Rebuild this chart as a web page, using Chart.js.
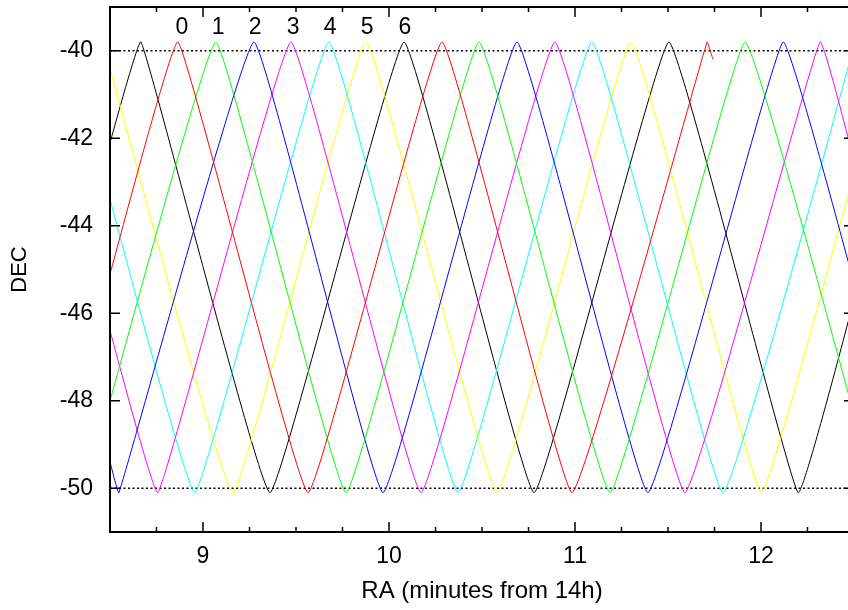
<!DOCTYPE html>
<html>
<head>
<meta charset="utf-8">
<script src="https://cdn.jsdelivr.net/npm/chart.js@4.4.0/dist/chart.umd.min.js"></script>
<style>
  html, body { margin: 0; padding: 0; background: #fff; overflow: hidden; }
  #wrap { width: 870px; height: 610px; }
</style>
</head>
<body>
<div id="wrap"><canvas id="raChart" width="870" height="610"></canvas></div>
<script>
// Axis ranges (RA in minutes from 14h, DEC in degrees)
const xMin = 8.5, xMax = 12.5;
const yMin = -51, yMax = -39;
const xTicks = [9, 10, 11, 12];
const xMinorStep = 0.25;
const yTicks = [-50, -48, -46, -44, -42, -40];
const refLines = [-40, -50];

// Scan tracks: turning points
const scan0X = [8.5, 8.866, 9.565, 10.285, 10.984, 11.71, 11.742];
const scan0Y = [-45.1, -39.8, -50.1, -39.8, -50.1, -39.8, -40.2];
const scan1X = [8.5, 9.07, 9.769, 10.484, 11.188, 11.914, 12.5];
const scan1Y = [-48.0, -39.8, -50.1, -39.8, -50.1, -39.8, -48.3];
const scan2X = [8.5, 8.548, 9.274, 9.968, 10.688, 11.392, 12.118, 12.5];
const scan2Y = [-49.4, -50.1, -39.8, -50.1, -39.8, -50.1, -39.8, -45.3];
const scan3X = [8.5, 8.758, 9.473, 10.172, 10.892, 11.591, 12.317, 12.5];
const scan3Y = [-46.4, -50.1, -39.8, -50.1, -39.8, -50.1, -39.8, -42.5];
const scan4X = [8.5, 8.957, 9.677, 10.371, 11.091, 11.796, 12.5];
const scan4Y = [-43.4, -50.1, -39.8, -50.1, -39.8, -50.1, -39.9];
const scan5X = [8.5, 9.161, 9.876, 10.581, 11.301, 12.0, 12.5];
const scan5Y = [-40.4, -50.1, -39.8, -50.1, -39.8, -50.1, -42.8];
const scan6X = [8.5, 8.667, 9.36, 10.081, 10.78, 11.505, 12.199, 12.5];
const scan6Y = [-42.1, -39.8, -50.1, -39.8, -50.1, -39.8, -50.1, -45.7];

const scanNames = ["0", "1", "2", "3", "4", "5", "6"];
const scanColors = ["#ff0000", "#00ff00", "#0000ff", "#ff00ff", "#00ffff", "#ffff00", "#000000"];
const labelX = [8.887, 9.081, 9.28, 9.484, 9.683, 9.882, 10.086];
const labelY = -39.47;

const scansX = [scan0X, scan1X, scan2X, scan3X, scan4X, scan5X, scan6X];
const scansY = [scan0Y, scan1Y, scan2Y, scan3Y, scan4Y, scan5Y, scan6Y];

const FONT = '"Liberation Sans", Arial, sans-serif';
Chart.defaults.font.family = FONT;
Chart.defaults.color = "#000";

// gnuplot-like frame with inward ticks, plus scan numbers
const framePlugin = {
  id: "frame",
  afterDatasetsDraw(chart) {
    const { ctx, chartArea: a, scales } = chart;
    const x = scales.x, y = scales.y;
    ctx.save();
    ctx.strokeStyle = "#000";
    ctx.lineWidth = 1.5;
    ctx.beginPath();
    for (let v = xMin; v <= xMax + 1e-9; v += xMinorStep) {
      const px = x.getPixelForValue(v);
      const len = xTicks.includes(v) ? 10 : 5;
      ctx.moveTo(px, a.bottom);
      ctx.lineTo(px, a.bottom - len);
      ctx.moveTo(px, a.top);
      ctx.lineTo(px, a.top + len);
    }
    yTicks.forEach((v) => {
      const py = y.getPixelForValue(v);
      ctx.moveTo(a.left, py);
      ctx.lineTo(a.left + 10, py);
      ctx.moveTo(a.right, py);
      ctx.lineTo(a.right - 10, py);
    });
    ctx.stroke();
    ctx.lineWidth = 2;
    ctx.strokeRect(a.left, a.top, a.right - a.left, a.bottom - a.top);

    ctx.fillStyle = "#000";
    ctx.font = "23px " + FONT;
    ctx.textAlign = "center";
    ctx.textBaseline = "middle";
    scanNames.forEach((n, i) => {
      ctx.fillText(n, x.getPixelForValue(labelX[i]), y.getPixelForValue(labelY));
    });
    ctx.restore();
  },
};

const datasets = scansX.map((xs, i) => ({
  label: scanNames[i],
  data: xs.map((v, j) => ({ x: v, y: scansY[i][j] })),
  borderColor: scanColors[i],
  borderWidth: 1,
  pointRadius: 0,
  tension: 0.08,
  showLine: true,
}));

refLines.forEach((v) => {
  datasets.push({
    label: "ref " + v,
    data: [{ x: xMin, y: v }, { x: xMax, y: v }],
    borderColor: "#000",
    borderWidth: 1.5,
    borderDash: [2, 2.5],
    pointRadius: 0,
    showLine: true,
  });
});

function noEdgePadding(s) {
  s.paddingTop = 0;
  s.paddingBottom = 0;
  s.paddingLeft = 0;
  s.paddingRight = 0;
}

const raChart = new Chart(document.getElementById("raChart").getContext("2d"), {
  type: "scatter",
  data: { datasets },
  options: {
    responsive: false,
    animation: false,
    layout: { padding: { top: 7, right: 16, left: 0, bottom: 0 } },
    plugins: { legend: { display: false }, tooltip: { enabled: false } },
    scales: {
      x: {
        type: "linear",
        min: xMin,
        max: xMax,
        afterBuildTicks: (s) => { s.ticks = xTicks.map((v) => ({ value: v })); },
        afterFit: (s) => { s.height = 78; noEdgePadding(s); },
        grid: { display: false, drawTicks: false },
        border: { display: false },
        ticks: { font: { size: 23 }, padding: 11, maxRotation: 0 },
        title: {
          display: true,
          text: "RA (minutes from 14h)",
          font: { size: 24 },
          padding: { top: 0, bottom: 4 },
        },
      },
      y: {
        type: "linear",
        min: yMin,
        max: yMax,
        afterBuildTicks: (s) => { s.ticks = yTicks.map((v) => ({ value: v })); },
        afterFit: (s) => { s.width = 110; noEdgePadding(s); },
        grid: { display: false, drawTicks: false },
        border: { display: false },
        ticks: { font: { size: 23 }, padding: 17 },
        title: {
          display: true,
          text: "DEC",
          font: { size: 22 },
          padding: { top: 7, bottom: 0 },
        },
      },
    },
  },
  plugins: [framePlugin],
});
</script>
</body>
</html>
